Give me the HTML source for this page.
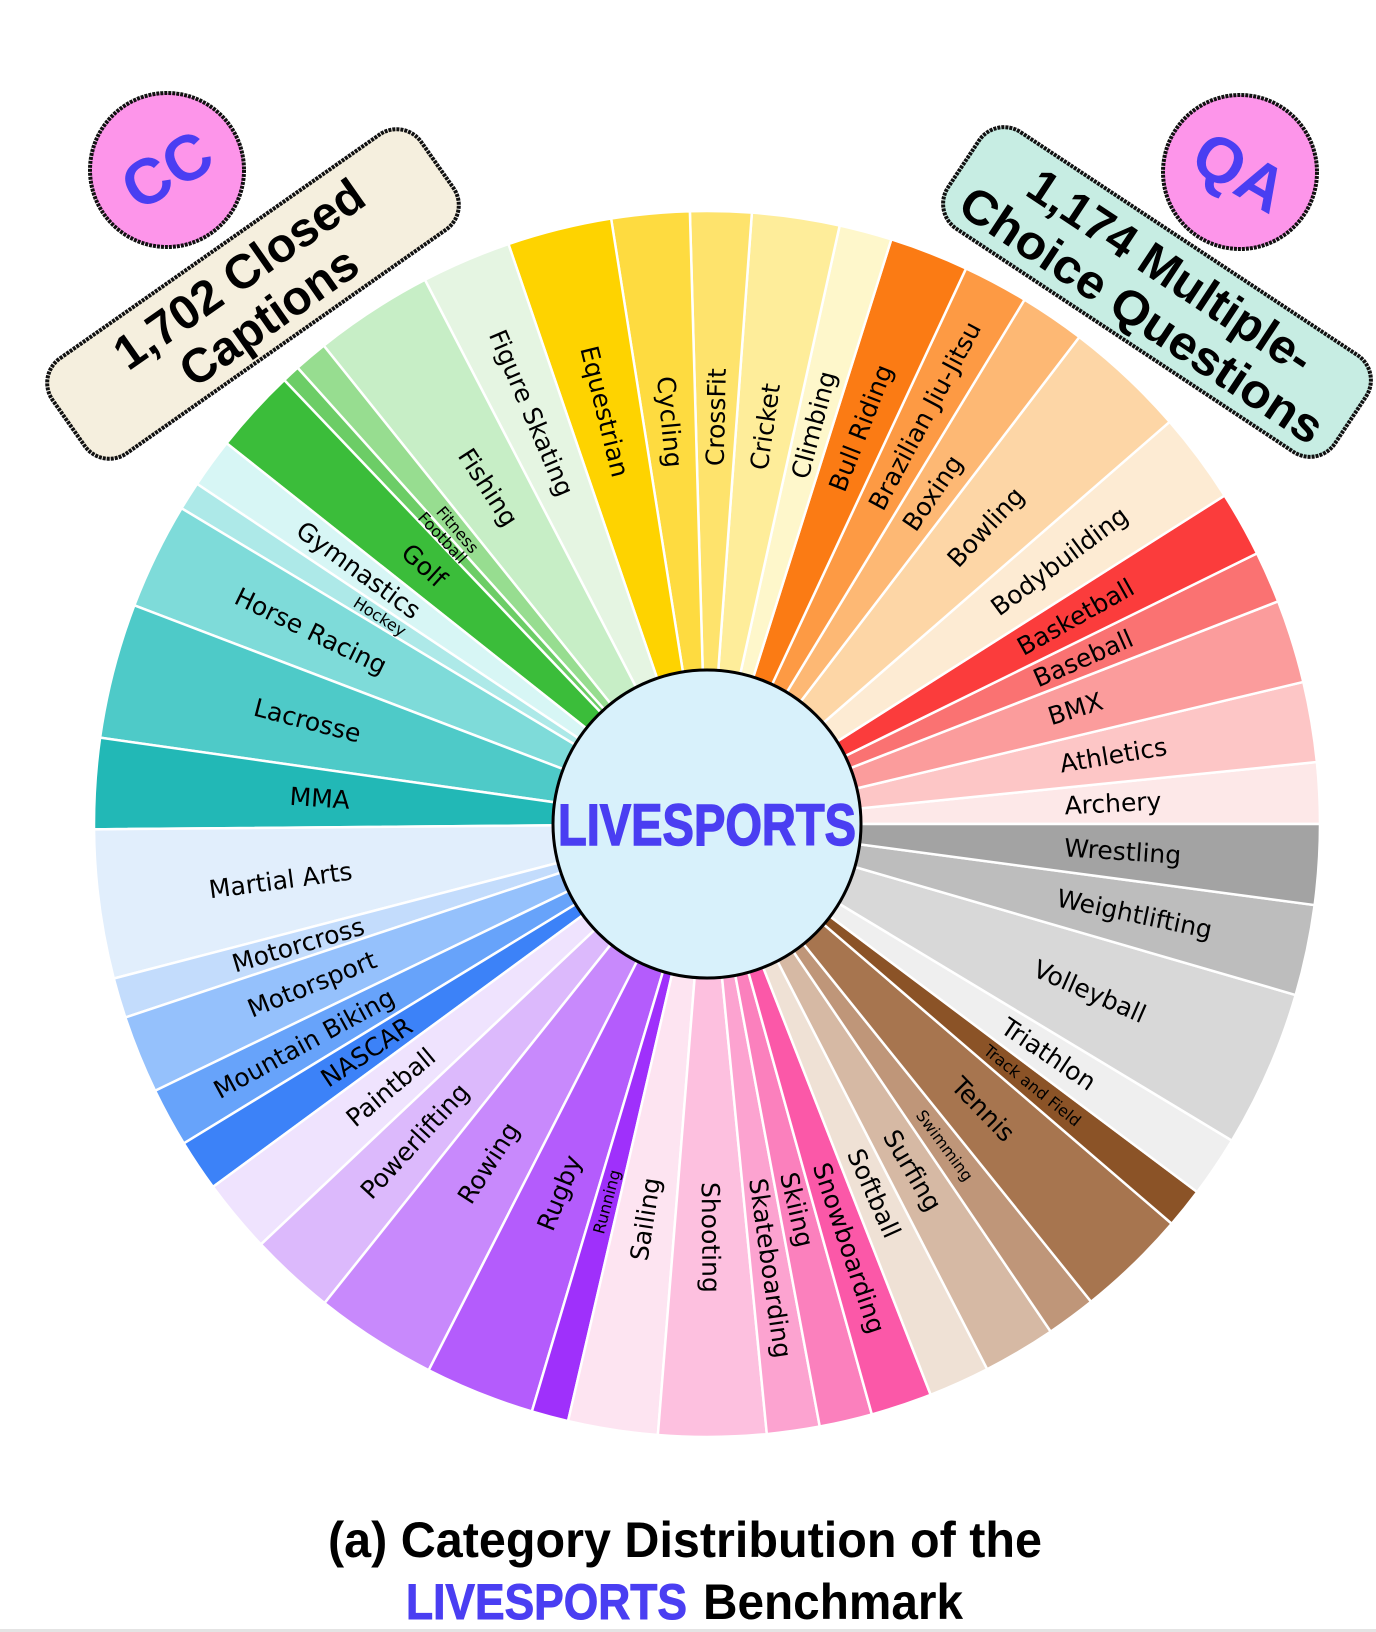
<!DOCTYPE html>
<html><head><meta charset="utf-8"><style>
html,body{margin:0;padding:0;background:#fff}
svg{display:block}
</style></head><body>
<svg id="chart" width="1376" height="1632" viewBox="0 0 1376 1632" xmlns="http://www.w3.org/2000/svg">
  <g id="wedges"></g>
  <g id="labels"></g>
  <circle cx="707" cy="824" r="154" fill="#d8f1fb" stroke="#000" stroke-width="3"/>
  <text x="707" y="845" text-anchor="middle" font-family="Liberation Sans, sans-serif" font-weight="bold" font-size="58" textLength="298" lengthAdjust="spacingAndGlyphs" fill="#4a3ef2" stroke="#4a3ef2" stroke-width="1.5">LIVESPORTS</text>

  <g transform="translate(253,294) rotate(-35)">
    <rect x="-225" y="-58" width="450" height="116" rx="30" fill="#f5efde" stroke="#111" stroke-width="4" stroke-dasharray="3 1"/>
    <text x="0" y="-8" text-anchor="middle" font-family="Liberation Sans, sans-serif" font-weight="bold" font-size="48" fill="#000">1,702 Closed</text>
    <text x="0" y="44" text-anchor="middle" font-family="Liberation Sans, sans-serif" font-weight="bold" font-size="48" fill="#000">Captions</text>
  </g>
  <g transform="translate(167,170)">
    <circle r="77" fill="#fd95ea" stroke="#111" stroke-width="4" stroke-dasharray="3 1"/>
    <text transform="rotate(-30)" x="0" y="22" text-anchor="middle" font-family="Liberation Sans, sans-serif" font-weight="bold" font-size="64" fill="#4a3ef2">CC</text>
  </g>

  <g transform="translate(1157,292) rotate(33.5)">
    <rect x="-232" y="-58" width="464" height="116" rx="30" fill="#c7ede3" stroke="#111" stroke-width="4" stroke-dasharray="3 1"/>
    <text x="0" y="-8" text-anchor="middle" font-family="Liberation Sans, sans-serif" font-weight="bold" font-size="48" fill="#000">1,174 Multiple-</text>
    <text x="0" y="44" text-anchor="middle" font-family="Liberation Sans, sans-serif" font-weight="bold" font-size="48" textLength="425" lengthAdjust="spacingAndGlyphs" fill="#000">Choice Questions</text>
  </g>
  <g transform="translate(1240,172)">
    <circle r="77" fill="#fd95ea" stroke="#111" stroke-width="4" stroke-dasharray="3 1"/>
    <text transform="rotate(30)" x="0" y="22" text-anchor="middle" font-family="Liberation Sans, sans-serif" font-weight="bold" font-size="64" fill="#4a3ef2">QA</text>
  </g>

  <text x="685" y="1557" text-anchor="middle" font-family="Liberation Sans, sans-serif" font-weight="bold" font-size="50" textLength="714" lengthAdjust="spacingAndGlyphs" fill="#000">(a) Category Distribution of the</text>
  <text x="406" y="1619" font-family="Liberation Sans, sans-serif" font-weight="bold" font-size="50" textLength="281" lengthAdjust="spacingAndGlyphs" fill="#4a3ef2" stroke="#4a3ef2" stroke-width="1">LIVESPORTS</text>
  <text x="703" y="1619" font-family="Liberation Sans, sans-serif" font-weight="bold" font-size="50" textLength="260" lengthAdjust="spacingAndGlyphs" fill="#000">Benchmark</text>
  <rect x="0" y="1629" width="1376" height="3" fill="#e4e4e4"/>
</svg>
<script>
const categories = ["Archery","Athletics","BMX","Baseball","Basketball","Bodybuilding","Bowling","Boxing","Brazilian Jiu-Jitsu","Bull Riding","Climbing","Cricket","CrossFit","Cycling","Equestrian","Figure Skating","Fishing","Fitness","Football","Golf","Gymnastics","Hockey","Horse Racing","Lacrosse","MMA","Martial Arts","Motorcross","Motorsport","Mountain Biking","NASCAR","Paintball","Powerlifting","Rowing","Rugby","Running","Sailing","Shooting","Skateboarding","Skiing","Snowboarding","Softball","Surfing","Swimming","Tennis","Track and Field","Triathlon","Volleyball","Weightlifting","Wrestling"];
const shares = [5.8,7.6,7.9,4.9,6.2,8.6,11.6,6.2,6.2,7.5,5.0,8.3,5.8,7.4,9.9,8.5,11.3,3.2,1.7,8.0,4.7,2.7,10.1,12.8,8.6,14.1,3.8,7.4,5.6,4.9,7.0,8.1,11.6,10.4,3.5,8.5,10.2,5.0,5.0,5.8,5.8,6.9,4.7,10.5,3.8,5.8,14.9,8.6,7.6];
const colors = ["#fde8e8","#fdc6c6","#fb9c9c","#fa7272","#fb3c3c","#fdebd3","#fdd6a6","#fdb874","#fd9a44","#fb7b14","#fef7cb","#feed9a","#fee36c","#fedb40","#fed300","#e5f5e2","#c7eec6","#97dd90","#6ccd66","#3bbd3a","#d7f6f5","#ade9e8","#7edbd9","#4ecac8","#22b8b6","#e1eefc","#c3dcfc","#95c1fc","#67a3fa","#3c82f8","#efe3fe","#dcb9fc","#c889fc","#b45cfc","#9f30fb","#fde4f1","#fdc0df","#fca3d0","#fb80bd","#fb58a8","#efe1d5","#d6b9a4","#bf9679","#a7754f","#8b5327","#efefef","#d8d8d8","#bdbdbd","#a3a3a3"];
const smallLabels = ["Fitness","Football","Hockey","Running","Swimming","Track and Field"];

const NS = "http://www.w3.org/2000/svg";
const cx = 707, cy = 824, R = 613, labelR = 358;
const total = shares.reduce((a,b)=>a+b,0);
function angleScale(v){ return v / total * 360; }
function pt(deg, r){ const a = deg*Math.PI/180; return [cx + r*Math.cos(a), cy - r*Math.sin(a)]; }

const wedgeG = document.getElementById('wedges');
const labelG = document.getElementById('labels');
let acc = 0;
categories.forEach((name, i) => {
  const a0 = angleScale(acc);
  acc += shares[i];
  const a1 = angleScale(acc);
  const p0 = pt(a0, R), p1 = pt(a1, R);
  const large = (a1 - a0) > 180 ? 1 : 0;
  const path = document.createElementNS(NS, 'path');
  path.setAttribute('d', `M${cx},${cy} L${p0[0].toFixed(2)},${p0[1].toFixed(2)} A${R},${R} 0 ${large} 0 ${p1[0].toFixed(2)},${p1[1].toFixed(2)} Z`);
  path.setAttribute('fill', colors[i]);
  path.setAttribute('stroke', '#fff');
  path.setAttribute('stroke-width', '2.5');
  
  
  wedgeG.appendChild(path);

  const mid = (a0 + a1) / 2;
  const lp = pt(mid, labelR);
  const left = mid > 90 && mid < 270;
  const rot = left ? 180 - mid : -mid;
  const t = document.createElementNS(NS, 'text');
  t.setAttribute('transform', `translate(${lp[0].toFixed(2)},${lp[1].toFixed(2)}) rotate(${rot.toFixed(2)})`);
  t.setAttribute('text-anchor', left ? 'end' : 'start');
  t.setAttribute('dominant-baseline', 'central');
  t.setAttribute('font-family', 'DejaVu Sans, Liberation Sans, sans-serif');
  t.setAttribute('font-size', smallLabels.includes(name) ? '16' : '25');
  t.setAttribute('fill', '#000');
  t.textContent = name;
  
  
  labelG.appendChild(t);
});
</script>
</body></html>
